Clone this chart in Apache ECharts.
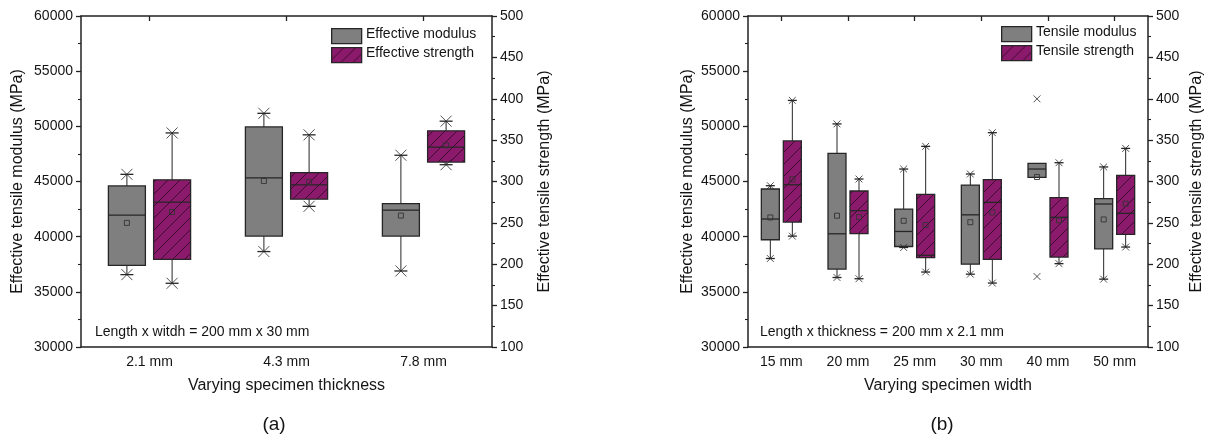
<!DOCTYPE html>
<html>
<head>
<meta charset="utf-8">
<script src="https://cdn.jsdelivr.net/npm/echarts@6/dist/echarts.min.js"></script>
<style>html,body{margin:0;padding:0;background:#fff}#c{width:1226px;height:441px}</style>
</head>
<body>
<div id="c"></div>
<script>
// ---- DATA ----
// each row: [lower whisker, Q1, median, Q3, upper whisker, mean]
const thicknessCats = ['2.1 mm', '4.3 mm', '7.8 mm'];
const thicknessModulus = [
  [36560, 37400, 41950, 44600, 45650, 41250],
  [38650, 40050, 45320, 49950, 51180, 45050],
  [36890, 40050, 42400, 43000, 47380, 41910]
];
const thicknessStrength = [
  [177.0, 205.8, 275.0, 302.0, 358.7, 263.2],
  [270.0, 278.7, 296.0, 310.8, 356.4, 299.6],
  [320.3, 323.5, 341.6, 361.2, 372.9, 343.6]
];
const widthCats = ['15 mm', '20 mm', '25 mm', '30 mm', '40 mm', '50 mm'];
const widthModulus = [
  [38020, 39720, 41600, 44320, 44620, 41740],
  [36300, 37060, 40260, 47550, 50220, 41900],
  [39020, 39110, 40470, 42500, 46130, 41440],
  [36600, 37510, 41980, 44680, 45680, 41310],
  [45370, 45370, 46130, 46640, 46640, 45410],
  [36150, 38900, 42960, 43440, 46320, 41560]
];
const widthStrength = [
  [234.0, 251.0, 296.0, 349.0, 398.0, 302.6],
  [182.5, 237.0, 264.8, 288.5, 303.0, 257.0],
  [190.6, 208.0, 210.8, 284.5, 342.5, 247.4],
  [177.3, 205.9, 274.8, 302.2, 359.0, 262.7],
  [200.7, 208.7, 256.7, 280.5, 322.7, 253.0],
  [220.8, 236.2, 261.5, 307.5, 340.0, 273.2]
];
// min / max markers (x) — equal to whisker ends except where outliers are shown
const widthModulusExtremes = [
  [38020, 44620], [36300, 50220], [39020, 46130], [36600, 45680], [36390, 52490], [36150, 46320]
];
const modulusTicks = {min: 30000, max: 60000, interval: 5000};
const strengthTicks = {min: 100, max: 500, interval: 50};

// ---- STYLE ----
const FONT = '"Liberation Sans", Arial, sans-serif';
const TXT = '#141414';
const GRAY = '#7f7f7f';
const PURPLE = '#8c1a6c';
const EDGE = '#262626';

function hatchCanvas() {
  const s = 12;
  const cv = document.createElement('canvas');
  cv.width = s; cv.height = s;
  const g = cv.getContext('2d');
  g.fillStyle = PURPLE; g.fillRect(0, 0, s, s);
  g.strokeStyle = '#2a0820'; g.lineWidth = 0.8;
  g.beginPath();
  g.moveTo(0, s); g.lineTo(s, 0);
  g.moveTo(-1, 1); g.lineTo(1, -1);
  g.moveTo(s - 1, s + 1); g.lineTo(s + 1, s - 1);
  g.stroke();
  return cv;
}
const HATCH = {type: 'pattern', image: hatchCanvas(), repeat: 'repeat'};

function rows(stats, extremes) {
  return stats.map((r, i) => {
    const ex = extremes ? extremes[i] : [r[0], r[4]];
    return [i, r[0], r[1], r[2], r[3], r[4], r[5], ex[0], ex[1]];
  });
}

function makeRender(side, fill) {
  return function (params, api) {
    const c = api.value(0);
    const band = api.size([1, 0])[0];
    const cx = api.coord([c, api.value(3)])[0] + side * band * 0.165;
    const bw = band * 0.27;
    const y = i => api.coord([c, api.value(i)])[1];
    const yLo = y(1), yQ1 = y(2), yMed = y(3), yQ3 = y(4), yHi = y(5), yMean = y(6), yXl = y(7), yXh = y(8);
    const cap = Math.min(13, bw * 0.5) / 2;
    const cs = Math.min(11, bw * 0.38) / 2;
    const ln = (x1, y1, x2, y2, w) => ({type: 'line', shape: {x1, y1, x2, y2}, style: {stroke: EDGE, lineWidth: w || 1}});
    const ch = [];
    if (yHi < yQ3 - 0.5) { ch.push(ln(cx, yHi, cx, yQ3, 1)); ch.push(ln(cx - cap, yHi, cx + cap, yHi, 1.3)); }
    if (yLo > yQ1 + 0.5) { ch.push(ln(cx, yQ1, cx, yLo, 1)); ch.push(ln(cx - cap, yLo, cx + cap, yLo, 1.3)); }
    ch.push({type: 'rect', shape: {x: cx - bw / 2, y: yQ3, width: bw, height: yQ1 - yQ3}, style: {fill: fill, stroke: EDGE, lineWidth: 1.3}});
    ch.push(ln(cx - bw / 2, yMed, cx + bw / 2, yMed, 1.3));
    ch.push({type: 'rect', shape: {x: cx - 2.5, y: yMean - 2.5, width: 5, height: 5}, style: {fill: 'none', stroke: '#333', lineWidth: 0.9}});
    [yXl, yXh].forEach(yy => {
      ch.push(ln(cx - cs, yy - cs, cx + cs, yy + cs, 0.8));
      ch.push(ln(cx - cs, yy + cs, cx + cs, yy - cs, 0.8));
    });
    return {type: 'group', children: ch};
  };
}

function xBottom(gi, cats, name) {
  return {
    type: 'category', gridIndex: gi, data: cats, position: 'bottom',
    axisLine: {lineStyle: {color: '#222', width: 1.5}},
    axisTick: {show: false},
    axisLabel: {fontSize: 14, color: TXT, fontFamily: FONT, margin: 8},
    name: name, nameLocation: 'middle', nameGap: 31,
    nameTextStyle: {fontSize: 16, color: TXT, fontFamily: FONT},
    splitLine: {show: false}
  };
}
function xTop(gi, cats) {
  return {
    type: 'category', gridIndex: gi, data: cats, position: 'top',
    axisLine: {lineStyle: {color: '#222', width: 1.5}},
    axisTick: {show: true, inside: true, length: 5, alignWithLabel: true, lineStyle: {color: '#222', width: 1.3}},
    axisLabel: {show: false}, splitLine: {show: false}
  };
}
function yAx(gi, pos, ticks, name, gap) {
  return {
    type: 'value', gridIndex: gi, position: pos,
    min: ticks.min, max: ticks.max, interval: ticks.interval,
    axisLine: {show: true, lineStyle: {color: '#222', width: 1.5}},
    axisTick: {show: true, inside: false, length: 5, lineStyle: {color: '#222', width: 1.3}},
    minorTick: {show: true, splitNumber: 2, length: 3, lineStyle: {color: '#222', width: 1.1}},
    axisLabel: {fontSize: 14, color: TXT, fontFamily: FONT, margin: 8, formatter: v => String(v)},
    splitLine: {show: false}, minorSplitLine: {show: false},
    name: name, nameLocation: 'middle', nameGap: gap,
    nameTextStyle: {fontSize: 16, color: TXT, fontFamily: FONT}
  };
}

function legendGraphic(x, y, labels) {
  const els = [];
  labels.forEach((lab, i) => {
    const yy = y + i * 19;
    els.push({type: 'rect', left: x, top: yy, shape: {width: 30, height: 15},
      style: {fill: i === 0 ? GRAY : HATCH, stroke: EDGE, lineWidth: 1.3}});
    els.push({type: 'text', left: x + 35, top: yy + 7.5 - 8,
      style: {text: lab, fontSize: 14, fill: TXT, fontFamily: FONT}});
  });
  return els;
}

const modA = rows(thicknessModulus), strA = rows(thicknessStrength);
const modB = rows(widthModulus, widthModulusExtremes), strB = rows(widthStrength);

const option = {
  backgroundColor: '#fff',
  animation: false,
  grid: [
    {left: 81, top: 16, width: 411, height: 331},
    {left: 748, top: 16, width: 400, height: 331}
  ],
  xAxis: [
    xBottom(0, thicknessCats, 'Varying specimen thickness'),
    xTop(0, thicknessCats),
    xBottom(1, widthCats, 'Varying specimen width'),
    xTop(1, widthCats)
  ],
  yAxis: [
    yAx(0, 'left', modulusTicks, 'Effective tensile modulus (MPa)', 55),
    yAx(0, 'right', strengthTicks, 'Effective tensile strength (MPa)', 45),
    yAx(1, 'left', modulusTicks, 'Effective tensile modulus (MPa)', 52),
    yAx(1, 'right', strengthTicks, 'Effective tensile strength (MPa)', 41)
  ],
  series: [
    {type: 'custom', name: 'Effective modulus', xAxisIndex: 0, yAxisIndex: 0, data: modA,
      encode: {x: 0, y: [1, 2, 3, 4, 5, 6, 7, 8]}, renderItem: makeRender(-1, GRAY)},
    {type: 'custom', name: 'Effective strength', xAxisIndex: 0, yAxisIndex: 1, data: strA,
      encode: {x: 0, y: [1, 2, 3, 4, 5, 6, 7, 8]}, renderItem: makeRender(1, HATCH)},
    {type: 'custom', name: 'Tensile modulus', xAxisIndex: 2, yAxisIndex: 2, data: modB,
      encode: {x: 0, y: [1, 2, 3, 4, 5, 6, 7, 8]}, renderItem: makeRender(-1, GRAY)},
    {type: 'custom', name: 'Tensile strength', xAxisIndex: 2, yAxisIndex: 3, data: strB,
      encode: {x: 0, y: [1, 2, 3, 4, 5, 6, 7, 8]}, renderItem: makeRender(1, HATCH)}
  ],
  graphic: [].concat(
    legendGraphic(331, 28, ['Effective modulus', 'Effective strength']),
    legendGraphic(1001, 26, ['Tensile modulus', 'Tensile strength']),
    [
      {type: 'text', left: 95, top: 325, style: {text: 'Length x witdh = 200 mm x 30 mm', fontSize: 14, fill: TXT, fontFamily: FONT}},
      {type: 'text', left: 760, top: 325, style: {text: 'Length x thickness = 200 mm x 2.1 mm', fontSize: 14, fill: TXT, fontFamily: FONT}},
      {type: 'text', x: 274, y: 425, style: {text: '(a)', fontSize: 19, fill: TXT, fontFamily: FONT, align: 'center', verticalAlign: 'middle'}},
      {type: 'text', x: 942, y: 425, style: {text: '(b)', fontSize: 19, fill: TXT, fontFamily: FONT, align: 'center', verticalAlign: 'middle'}}
    ]
  )
};

const chart = echarts.init(document.getElementById('c'), null, {renderer: 'canvas'});
chart.setOption(option);
</script>
</body>
</html>
